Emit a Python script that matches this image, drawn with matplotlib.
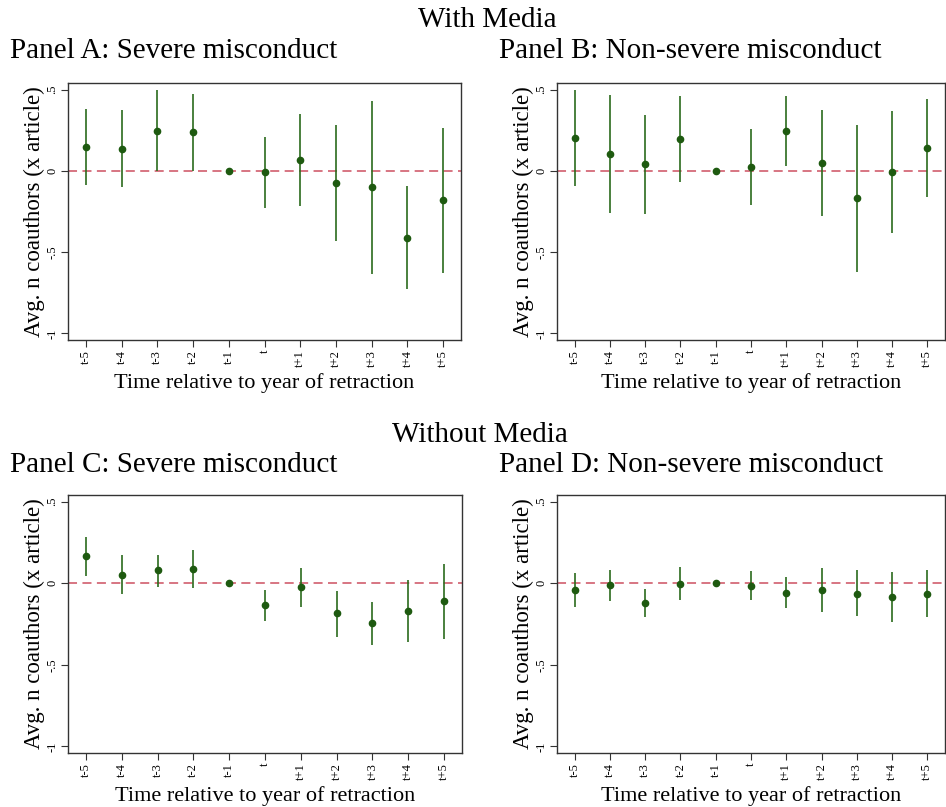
import matplotlib
matplotlib.use("Agg")
import matplotlib.pyplot as plt
import numpy as np

plt.rcParams['font.family'] = ['Liberation Serif', 'DejaVu Serif']

periods = ["t-5", "t-4", "t-3", "t-2", "t-1", "t", "t+1", "t+2", "t+3", "t+4", "t+5"]

# Panel A: with media, severe misconduct
a_coef = [0.147, 0.137, 0.245, 0.239, 0.0, -0.010, 0.065, -0.072, -0.102, -0.411, -0.180]
a_hi = [0.378, 0.376, 0.494, 0.470, 0.0, 0.210, 0.347, 0.284, 0.427, -0.096, 0.266]
a_lo = [-0.086, -0.100, 0.0, 0.0, 0.0, -0.231, -0.215, -0.429, -0.633, -0.727, -0.627]

# Panel B: with media, non-severe misconduct
b_coef = [0.204, 0.104, 0.041, 0.194, 0.0, 0.025, 0.245, 0.047, -0.170, -0.008, 0.143]
b_hi = [0.499, 0.466, 0.345, 0.458, 0.0, 0.260, 0.460, 0.372, 0.280, 0.366, 0.443]
b_lo = [-0.092, -0.257, -0.266, -0.067, 0.0, -0.208, 0.031, -0.280, -0.623, -0.384, -0.159]

# Panel C: without media, severe misconduct
c_coef = [0.164, 0.053, 0.078, 0.088, 0.0, -0.136, -0.025, -0.183, -0.245, -0.168, -0.111]
c_hi = [0.281, 0.171, 0.173, 0.203, 0.0, -0.039, 0.095, -0.045, -0.113, 0.018, 0.115]
c_lo = [0.043, -0.068, -0.021, -0.031, 0.0, -0.230, -0.146, -0.327, -0.376, -0.358, -0.339]

# Panel D: without media, non-severe misconduct
d_coef = [-0.043, -0.014, -0.121, -0.004, 0.0, -0.016, -0.060, -0.043, -0.064, -0.084, -0.066]
d_hi = [0.064, 0.082, -0.033, 0.099, 0.0, 0.074, 0.035, 0.092, 0.078, 0.066, 0.082]
d_lo = [-0.148, -0.111, -0.210, -0.105, 0.0, -0.105, -0.154, -0.177, -0.203, -0.238, -0.210]

yticks = [-1, -0.5, 0, 0.5]
ytick_labels = ["-1", "-.5", "0", ".5"]

W, H = 946, 807
fig = plt.figure(figsize=(W / 100, H / 100), dpi=100)


def px_axes(left, top, right, bottom):
    return fig.add_axes([left / W, 1 - bottom / H, (right - left) / W, (bottom - top) / H])


def panel(ax, coef, lo, hi):
    x = np.arange(1, len(periods) + 1)
    ax.axhline(0, color='#d46a78', lw=1.3, ls=(0, (5, 3)), zorder=1)
    ax.vlines(x, lo, hi, color='#2b6b1c', lw=1.2, zorder=2)
    ax.plot(x, coef, 'o', color='#1e5a10', ms=4.5, zorder=3)
    ax.set_xlim(0.5, 11.5)
    ax.set_ylim(-1.04, 0.54)
    ax.set_xticks(x)
    ax.set_xticklabels(periods, rotation=90, fontsize=9)
    ax.set_yticks(yticks)
    ax.set_yticklabels(ytick_labels, rotation=90, fontsize=9, va='center')
    ax.tick_params(direction='out', length=5, width=0.8, color='#333333', pad=2)
    for s in ax.spines.values():
        s.set_color('#333333')
        s.set_linewidth(1.0)
    ax.set_xlabel("Time relative to year of retraction", fontsize=16, labelpad=5)
    ax.set_ylabel("Avg. n coauthors (x article)", fontsize=16.5, labelpad=1)


axA = px_axes(68, 83, 461, 340)
axB = px_axes(557, 83, 945, 340)
axC = px_axes(68, 495, 462, 753)
axD = px_axes(557, 495, 945, 753)

panel(axA, a_coef, a_lo, a_hi)
panel(axB, b_coef, b_lo, b_hi)
panel(axC, c_coef, c_lo, c_hi)
panel(axD, d_coef, d_lo, d_hi)

fs = 21
fig.text(487 / W, 1 - 20 / H, "With Media", fontsize=fs, ha='center', va='center')
fig.text(480 / W, 1 - 435 / H, "Without Media", fontsize=fs, ha='center', va='center')
fig.text(10 / W, 1 - 51 / H, "Panel A: Severe misconduct", fontsize=fs, ha='left', va='center')
fig.text(499 / W, 1 - 51 / H, "Panel B: Non-severe misconduct", fontsize=fs, ha='left', va='center')
fig.text(10 / W, 1 - 465 / H, "Panel C: Severe misconduct", fontsize=fs, ha='left', va='center')
fig.text(499 / W, 1 - 465 / H, "Panel D: Non-severe misconduct", fontsize=fs, ha='left', va='center')

fig.savefig("out.png", dpi=100, facecolor='white')
